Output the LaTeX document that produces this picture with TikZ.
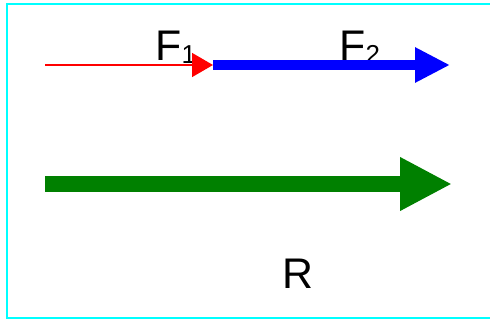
\documentclass[tikz,border=0pt]{standalone}
\usepackage{fontspec}
\setmainfont{Liberation Sans}
\usetikzlibrary{arrows.meta}
\definecolor{framecyan}{RGB}{0,255,255}
\definecolor{darkgreen}{RGB}{0,128,0}
\definecolor{pureblue}{RGB}{0,0,255}
\definecolor{purered}{RGB}{255,0,0}
\tikzset{
  lbl/.style={inner sep=0pt, outer sep=0pt, anchor=base west, font=\fontsize{43}{43}\selectfont},
  frame/.style={draw=framecyan, line width=1.5bp}
}
\newcommand{\mysub}[1]{{\fontsize{26}{26}\selectfont\raisebox{-3.5bp}{#1}}}
\begin{document}
\begin{tikzpicture}[x=1bp,y=1bp]
\useasboundingbox (0,0) rectangle (490,321);
\draw[frame] (495,317) -- (7,317) -- (7,3) -- (495,3);
% labels (drawn first, arrows overlap them)
\node[lbl] (f1) at (155.5,261) {F\mysub{1}};
\node[lbl] (f2) at (339.5,261) {F\mysub{2}};
\node[lbl] (r) at (282.5,33) {R};
% points
\coordinate (a) at (45,256);
\coordinate (b) at (213,256);
\coordinate (c) at (450,256);
\coordinate (d) at (45,137);
\coordinate (e) at (452,137);
\draw[purered, line width=1.5bp, -{Triangle[length=21bp,width=24bp]}] (a) -- (b);
\draw[pureblue, line width=10bp, -{Triangle[length=35bp,width=33bp]}] (b) -- (c);
\draw[darkgreen, line width=16bp, -{Triangle[length=52bp,width=50bp]}] (d) -- (e);
\end{tikzpicture}
\end{document}
